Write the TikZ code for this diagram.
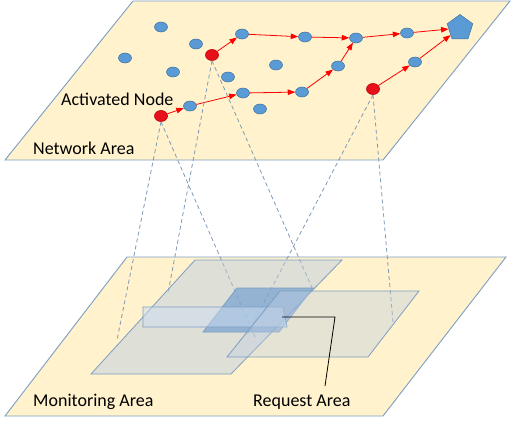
\documentclass[tikz,border=0pt]{standalone}
\usepackage{fontspec}
\setmainfont{Carlito}
\usetikzlibrary{shapes.geometric,arrows.meta}
\definecolor{planefill}{HTML}{FFF2CC}
\definecolor{edgeblue}{HTML}{7C9EC4}
\definecolor{nodeblue}{HTML}{5B9BD5}
\definecolor{nodeline}{HTML}{41719C}
\definecolor{actred}{RGB}{232,16,26}
\definecolor{actline}{RGB}{185,0,0}
\definecolor{dashcol}{HTML}{7F9AB8}
\definecolor{areagray}{RGB}{190,205,225}
\definecolor{arealight}{RGB}{205,222,242}
\definecolor{areadark}{RGB}{100,150,210}
\tikzset{
  planestyle/.style={fill=planefill, draw=edgeblue, line width=0.9pt},
  snode/.style={ellipse, fill=nodeblue, draw=nodeline, line width=0.5pt, inner sep=0pt, minimum width=13pt, minimum height=10pt},
  rnode/.style={ellipse, fill=actred, draw=actline, line width=0.6pt, inner sep=0pt, minimum width=13pt, minimum height=11pt},
  goalnode/.style={regular polygon, regular polygon sides=5, fill=nodeblue, draw=nodeline, line width=0.5pt, inner sep=0pt, minimum size=27pt},
  redarrow/.style={draw=red, line width=0.8pt, -{Triangle[length=7.5pt,width=5.5pt]}},
  projline/.style={draw=dashcol, line width=0.8pt, dash pattern=on 4pt off 3pt},
  areaA/.style={fill=areagray, fill opacity=0.5, draw=edgeblue, line width=0.8pt},
  areaB/.style={fill=arealight, fill opacity=0.5, draw=edgeblue, line width=0.8pt},
  areaC/.style={fill=areadark, fill opacity=0.6, draw=edgeblue, line width=0.8pt},
  areaD/.style={fill=areagray, fill opacity=0.4, draw=edgeblue, line width=0.8pt},
  lbl/.style={font=\fontsize{18}{20}\selectfont, anchor=base west, inner sep=0pt},
}
\begin{document}
\begin{tikzpicture}[x=1pt,y=-1pt]
\useasboundingbox (0,0) rectangle (511,423);
% top plane
\draw[planestyle] (133,1) -- (510,1) -- (383,160) -- (5,160) -- cycle;
% nodes
\node[snode] (a) at (161,27) {};
\node[snode] (b) at (196,44) {};
\node[snode] (c) at (125,58) {};
\node[snode] (d) at (173,72) {};
\node[snode] (e) at (228,77) {};
\node[snode] (f) at (276,65) {};
\node[snode] (g) at (242,34) {};
\node[snode] (h) at (305,37) {};
\node[snode] (i) at (356,38) {};
\node[snode] (j) at (407,33) {};
\node[snode] (k) at (338,66) {};
\node[snode] (l) at (415,62) {};
\node[snode] (m) at (243,93) {};
\node[snode] (n) at (302,92) {};
\node[snode] (o) at (190,106) {};
\node[snode] (p) at (260,109) {};
\node[rnode] (r1) at (161,116) {};
\node[rnode] (r2) at (212,55) {};
\node[rnode] (r3) at (373,89) {};
\node[goalnode] (goal) at (460,28) {};
% paths
\draw[redarrow] (r2) -- (g);
\draw[redarrow] (g) -- (h);
\draw[redarrow] (h) -- (i);
\draw[redarrow] (i) -- (j);
\draw[redarrow] (j) -- (goal);
\draw[redarrow] (r1) -- (o);
\draw[redarrow] (o) -- (m);
\draw[redarrow] (m) -- (n);
\draw[redarrow] (n) -- (k);
\draw[redarrow] (k) -- (i);
\draw[redarrow] (r3) -- (l);
\draw[redarrow] (l) -- (goal);
% labels top
\node[lbl] (actlbl) at (61,105) {Activated Node};
\node[lbl] (netlbl) at (33,154) {Network Area};
% bottom plane
\draw[planestyle] (127,257) -- (506,257) -- (383,416) -- (5,416) -- cycle;
% projection lines
\coordinate (e1) at (117,340);
\coordinate (e2) at (255,337);
\coordinate (e3) at (168,293);
\coordinate (e4) at (313,290);
\coordinate (e5) at (247,335);
\coordinate (e6) at (393,322);
\draw[projline] (r1.south) -- (e1);
\draw[projline] (r1.south) -- (e2);
\draw[projline] (r2.south) -- (e3);
\draw[projline] (r2.south) -- (e4);
\draw[projline] (r3.south) -- (e5);
\draw[projline] (r3.south) -- (e6);
% areas
\draw[areaA] (195,260) -- (342,260) -- (231,374) -- (91,374) -- cycle;
\draw[areaC] (237,288) -- (313,288) -- (279,332) -- (203,332) -- cycle;
\draw[areaB] (143,307) -- (283,307) -- (287,327) -- (143,327) -- cycle;
\draw[areaD] (280,291) -- (419,291) -- (368,357) -- (227,357) -- cycle;
% labels bottom
\node[lbl] (monlbl) at (33,406) {Monitoring Area};
\node[lbl] (reqlbl) at (253,406) {Request Area};
\coordinate (rq1) at (282,317);
\coordinate (rq2) at (335,317);
\coordinate (rqe) at (325,386);
\draw[black, line width=0.8pt] (rq1) -- (rq2) -- (rqe);
\end{tikzpicture}
\end{document}
